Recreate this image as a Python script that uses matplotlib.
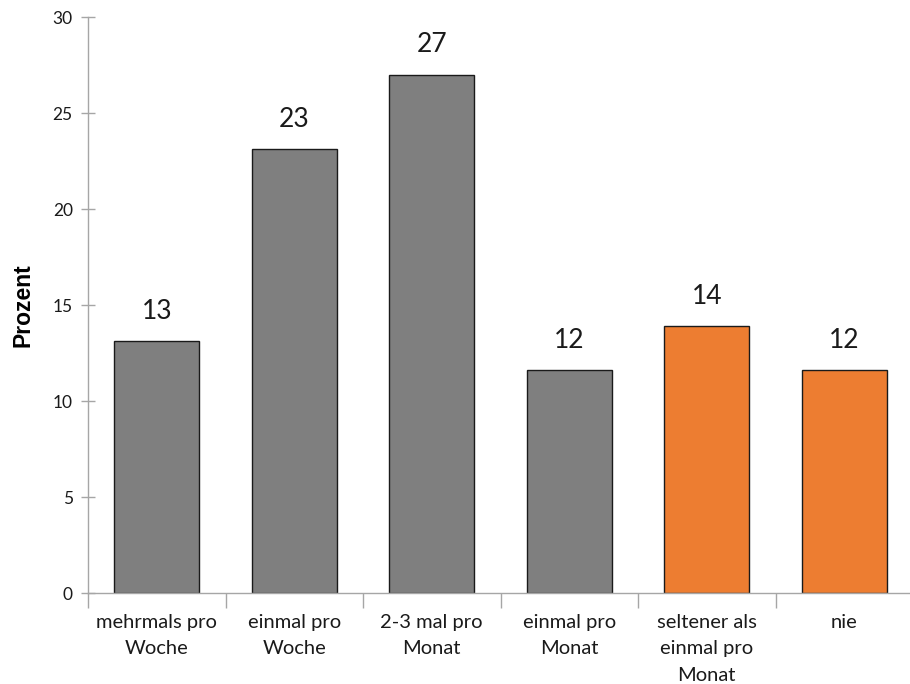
import matplotlib
matplotlib.use("Agg")
import matplotlib.pyplot as plt
from matplotlib.ticker import FixedLocator, MultipleLocator

categories = ["mehrmals pro\nWoche", "einmal pro\nWoche", "2-3 mal pro\nMonat",
              "einmal pro\nMonat", "seltener als\neinmal pro\nMonat", "nie"]
values = [13.1, 23.1, 27.0, 11.6, 13.9, 11.6]
colors = ["#7f7f7f", "#7f7f7f", "#7f7f7f", "#7f7f7f", "#ed7d31", "#ed7d31"]

font = "Lato"
axis_gray = "#a6a6a6"

fig = plt.figure(figsize=(9.10, 6.84), dpi=100)
ax = fig.add_axes([88 / 910, 91 / 684, 825 / 910, 576 / 684])

x = list(range(len(categories)))
bars = ax.bar(x, values, width=0.62, color=colors, edgecolor="#1a1a1a", linewidth=1.0, zorder=2)

for xi, v in zip(x, values):
    ax.text(xi, v + 0.9, f"{v:.0f}", ha="center", va="bottom",
            fontsize=19, family=font, color="#1a1a1a")

ax.set_xlim(-0.5, len(categories) - 0.5)
ax.set_ylim(0, 30)
ax.yaxis.set_major_locator(MultipleLocator(5))

for side in ("top", "right"):
    ax.spines[side].set_visible(False)
for side in ("left", "bottom"):
    ax.spines[side].set_color(axis_gray)
    ax.spines[side].set_linewidth(1.0)

ax.tick_params(axis="y", direction="inout", length=10, width=1.0, color=axis_gray,
               labelsize=12.5, pad=6, labelcolor="#1a1a1a")
ax.set_xticks(x)
ax.set_xticklabels(categories, fontsize=14.5, family=font, linespacing=1.68, color="#1a1a1a")
ax.tick_params(axis="x", which="major", length=0, pad=15)
ax.xaxis.set_minor_locator(FixedLocator([i + 0.5 for i in range(-1, len(categories))]))
ax.tick_params(axis="x", which="minor", direction="out", length=11, width=1.0, color=axis_gray)
for lab in ax.get_yticklabels():
    lab.set_family(font)

ax.set_ylabel("Prozent", fontsize=16.5, fontweight="bold", family="Liberation Sans",
              labelpad=13)

fig.savefig("out.png", dpi=100)
